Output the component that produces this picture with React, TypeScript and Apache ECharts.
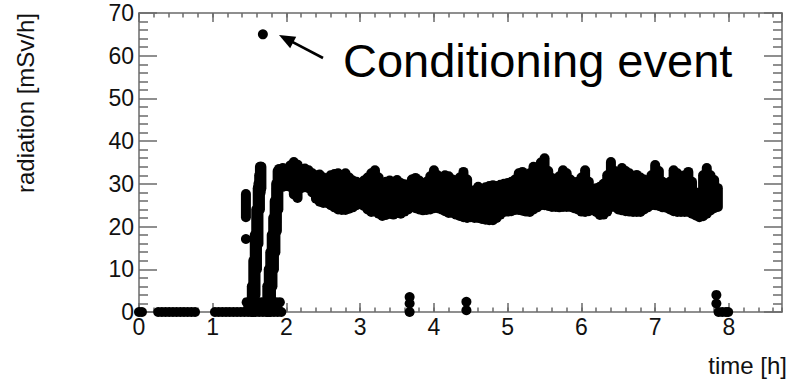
import React, { useEffect, useRef } from "react";
import * as echarts from "echarts";

// ---- Data ----
// Main plateau: for each time bin, lowest and highest measured value (mSv/h)
const bandTime = [
  1.90, 1.95, 2.00, 2.05, 2.10, 2.15, 2.20, 2.25, 2.30, 2.35,
  2.40, 2.45, 2.50, 2.55, 2.60, 2.65, 2.70, 2.75, 2.80, 2.85,
  2.90, 2.95, 3.00, 3.05, 3.10, 3.15, 3.20, 3.25, 3.30, 3.35,
  3.40, 3.45, 3.50, 3.55, 3.60, 3.65, 3.70, 3.75, 3.80, 3.85,
  3.90, 3.95, 4.00, 4.05, 4.10, 4.15, 4.20, 4.25, 4.30, 4.35,
  4.40, 4.45, 4.50, 4.55, 4.60, 4.65, 4.70, 4.75, 4.80, 4.85,
  4.90, 4.95, 5.00, 5.05, 5.10, 5.15, 5.20, 5.25, 5.30, 5.35,
  5.40, 5.45, 5.50, 5.55, 5.60, 5.65, 5.70, 5.75, 5.80, 5.85,
  5.90, 5.95, 6.00, 6.05, 6.10, 6.15, 6.20, 6.25, 6.30, 6.35,
  6.40, 6.45, 6.50, 6.55, 6.60, 6.65, 6.70, 6.75, 6.80, 6.85,
  6.90, 6.95, 7.00, 7.05, 7.10, 7.15, 7.20, 7.25, 7.30, 7.35,
  7.40, 7.45, 7.50, 7.55, 7.60, 7.65, 7.70, 7.75, 7.80, 7.85,
];
const bandHigh = [
  33.5, 33.7, 33.2, 34.3, 35.1, 34.5, 33.5, 33.6, 33.2, 32.5,
  32.0, 32.2, 31.5, 31.0, 32.0, 32.3, 32.5, 32.0, 32.5, 31.5,
  30.8, 30.5, 30.2, 30.8, 31.5, 32.5, 33.2, 31.5, 30.2, 30.5,
  30.8, 30.5, 30.9, 30.2, 29.9, 29.7, 31.0, 31.4, 30.8, 30.2,
  30.5, 31.8, 33.2, 32.0, 31.5, 32.0, 31.8, 31.0, 30.8, 31.5,
  32.8, 31.0, 28.0, 28.5, 29.3, 28.8, 29.2, 29.5, 29.7, 29.5,
  29.8, 30.0, 30.2, 30.5, 31.0, 32.5, 32.8, 31.5, 32.5, 34.0,
  33.5, 35.0, 36.0, 33.0, 31.4, 31.0, 31.8, 33.2, 32.5, 31.0,
  30.4, 30.5, 31.5, 33.2, 30.5, 28.6, 29.0, 29.3, 30.0, 32.0,
  35.1, 33.0, 32.5, 33.7, 33.0, 32.5, 31.5, 32.1, 31.5, 31.0,
  30.4, 32.0, 34.4, 33.0, 30.5, 29.3, 30.5, 33.2, 32.5, 31.5,
  32.0, 32.8, 30.5, 28.0, 27.9, 32.0, 33.7, 32.0, 30.9, 29.0,
];
const bandLow = [
  29.5, 29.3, 29.5, 29.3, 27.5, 26.7, 29.0, 29.2, 29.0, 28.0,
  26.5, 25.8, 25.5, 25.5, 25.0, 24.5, 24.0, 23.9, 23.9, 24.2,
  24.5, 25.0, 25.8, 24.8, 24.0, 23.4, 23.5, 23.0, 22.5, 22.7,
  23.0, 22.8, 23.2, 23.0, 23.5, 24.0, 24.6, 24.3, 24.0, 23.8,
  23.9, 24.0, 24.3, 24.3, 24.0, 23.6, 23.2, 23.2, 22.8, 22.5,
  22.2, 22.0, 22.2, 22.0, 22.0, 21.8, 21.6, 21.5, 21.5, 22.0,
  22.8, 23.4, 23.5, 23.6, 23.9, 23.9, 23.7, 23.5, 23.4, 24.0,
  24.5, 25.0, 25.0, 24.8, 24.6, 24.6, 24.5, 24.6, 24.6, 24.6,
  24.3, 24.0, 23.5, 23.4, 23.6, 23.9, 23.4, 22.7, 22.8, 23.5,
  24.6, 24.6, 24.0, 23.8, 23.6, 23.5, 23.4, 23.4, 23.4, 24.0,
  24.5, 25.0, 25.0, 24.8, 24.5, 24.4, 24.0, 23.6, 23.4, 23.4,
  23.4, 23.4, 23.0, 22.6, 22.2, 22.4, 23.0, 23.8, 24.3, 24.6,
];
// Ramp-up phase: early cluster and the two rising edges
const riseTime = [
  1.45,
  1.53, 1.55, 1.57, 1.59, 1.61, 1.63, 1.65,
  1.55, 1.58, 1.60, 1.62, 1.64, 1.66,
  1.74, 1.76, 1.78, 1.80, 1.82, 1.84, 1.86, 1.88,
  1.77, 1.79, 1.81, 1.83, 1.85, 1.87, 1.89,
];
const riseLow = [
  22.2,
  0, 2, 6, 12, 18, 24, 28,
  0, 4, 10, 16, 24, 29,
  0, 2, 5, 9, 13, 17, 21, 25,
  0, 3, 6, 10, 14, 19, 24,
];
const riseHigh = [
  27.6,
  6, 12, 18, 24, 29, 32, 34,
  4, 14, 22, 30, 34, 34,
  6, 10, 14, 18, 22, 26, 30, 33,
  5, 10, 15, 19, 24, 29, 33,
];
// Single measurements
const pointTime = [
  0.00, 0.04, 0.26, 0.31, 0.36, 0.41, 0.46, 0.51, 0.56, 0.61, 0.66, 0.71, 0.76,
  1.03, 1.08, 1.13, 1.18, 1.23, 1.28, 1.33, 1.38, 1.43, 1.48, 1.53, 1.58, 1.63,
  1.68, 1.73, 1.78, 1.83, 1.88, 1.93,
  1.46, 1.51, 1.56, 1.61, 1.66, 1.71, 1.76, 1.81, 1.86, 1.91,
  1.48, 1.58, 1.68, 1.78, 1.88,
  1.45, 1.68,
  3.67, 3.67, 3.67, 4.44, 4.44, 7.83, 7.83, 7.86, 7.91, 7.96, 7.99,
];
const pointValue = [
  0, 0, 0, 0, 0, 0, 0, 0, 0, 0, 0, 0, 0,
  0, 0, 0, 0, 0, 0, 0, 0, 0, 0, 0, 0, 0,
  0, 0, 0, 0, 0, 0,
  2.3, 2.3, 2.3, 2.3, 2.3, 2.3, 2.3, 2.3, 2.3, 2.3,
  1.0, 1.0, 1.0, 1.0, 1.0,
  17.1, 65,
  3.5, 2.0, 0, 2.4, 0.4, 4.0, 2.0, 0, 0, 0, 0,
];
const xTicksMajor = 1;
const xTicksMinor = 0.2;
const X_MAX = 8.72;
const Y_MAX = 70;
const yTicksMajor = 10;

const FONT = "'Liberation Sans', Arial, Helvetica, sans-serif";
const AXIS_COLOR = "#6a6a6a";

const rangeData = [
  ...bandTime.map((t, i) => [t, bandLow[i], bandHigh[i]]),
  ...riseTime.map((t, i) => [t, riseLow[i], riseHigh[i]]),
];
const pointData = pointTime.map((t, i) => [t, pointValue[i]]);

const intLabel = (v: number) =>
  Math.abs(v - Math.round(v)) < 1e-6 ? String(Math.round(v)) : "";

function xAxisDef(position: "bottom" | "top", interval: number, tickLen: number, showLabel: boolean, showLine: boolean) {
  return {
    type: "value",
    position,
    min: 0,
    max: X_MAX,
    interval,
    axisLine: { show: showLine, onZero: false, lineStyle: { color: AXIS_COLOR, width: 1.5 } },
    axisTick: { show: true, inside: true, length: tickLen, lineStyle: { color: AXIS_COLOR, width: 1.5 } },
    splitLine: { show: false },
    axisLabel: {
      show: showLabel,
      fontSize: 23,
      fontFamily: FONT,
      color: "#111",
      margin: 3,
      formatter: intLabel,
      showMaxLabel: false,
    },
  };
}

function yAxisDef(position: "left" | "right", showLabel: boolean) {
  return {
    type: "value",
    position,
    min: 0,
    max: Y_MAX,
    interval: yTicksMajor,
    axisLine: { show: true, onZero: false, lineStyle: { color: AXIS_COLOR, width: 1.5 } },
    axisTick: { show: true, inside: true, length: 18, lineStyle: { color: AXIS_COLOR, width: 1.5 } },
    minorTick: { show: true, splitNumber: 5, length: 9, lineStyle: { color: AXIS_COLOR, width: 1.5 } },
    splitLine: { show: false },
    minorSplitLine: { show: false },
    axisLabel: {
      show: showLabel,
      fontSize: 23,
      fontFamily: FONT,
      color: "#111",
      margin: 5,
    },
  };
}

// arrow geometry (annotation)
const arrowTail = [323, 58];
const arrowTip = [279, 35];
function arrowHead() {
  const dx = arrowTip[0] - arrowTail[0];
  const dy = arrowTip[1] - arrowTail[1];
  const len = Math.hypot(dx, dy);
  const ux = dx / len, uy = dy / len;
  const hl = 16, hw = 6.5;
  const bx = arrowTip[0] - hl * ux, by = arrowTip[1] - hl * uy;
  return [
    [arrowTip[0], arrowTip[1]],
    [bx - hw * uy, by + hw * ux],
    [bx + hw * uy, by - hw * ux],
  ];
}

const option: any = {
  animation: false,
  backgroundColor: "#fff",
  grid: { left: 139, right: 6, top: 13, bottom: 69, containLabel: false },
  xAxis: [
    xAxisDef("bottom", xTicksMajor, 9, true, true),
    xAxisDef("top", xTicksMajor, 9, false, true),
    xAxisDef("bottom", xTicksMinor, 4.5, false, false),
    xAxisDef("top", xTicksMinor, 4.5, false, false),
  ],
  yAxis: [yAxisDef("left", true), yAxisDef("right", false)],
  series: [
    {
      type: "custom",
      xAxisIndex: 0,
      yAxisIndex: 0,
      data: rangeData,
      encode: { x: 0, y: [1, 2] },
      renderItem: (params: any, api: any) => {
        const p1 = api.coord([api.value(0), api.value(1)]);
        const p2 = api.coord([api.value(0), api.value(2)]);
        return {
          type: "line",
          shape: { x1: p1[0], y1: p1[1], x2: p2[0], y2: p2[1] },
          style: { stroke: "#000", lineWidth: 10, lineCap: "round" },
        };
      },
    },
    {
      type: "scatter",
      xAxisIndex: 0,
      yAxisIndex: 0,
      data: pointData,
      symbol: "circle",
      symbolSize: 10,
      clip: false,
      itemStyle: { color: "#000", opacity: 1 },
    },
  ],
  graphic: [
    {
      type: "text",
      x: 25,
      y: 103,
      rotation: Math.PI / 2,
      style: {
        text: "radiation [mSv/h]",
        font: `24px ${FONT}`,
        fill: "#111",
        align: "center",
        verticalAlign: "middle",
      },
    },
    {
      type: "text",
      x: 787,
      y: 365,
      style: {
        text: "time [h]",
        font: `24px ${FONT}`,
        fill: "#111",
        align: "right",
        verticalAlign: "middle",
      },
    },
    {
      type: "text",
      x: 343,
      y: 60,
      style: {
        text: "Conditioning event",
        font: `47px ${FONT}`,
        fill: "#000",
        align: "left",
        verticalAlign: "middle",
      },
    },
    {
      type: "line",
      shape: { x1: arrowTail[0], y1: arrowTail[1], x2: arrowTip[0] + 8, y2: arrowTip[1] + 4.2 },
      style: { stroke: "#000", lineWidth: 2.6 },
    },
    {
      type: "polygon",
      shape: { points: arrowHead() },
      style: { fill: "#000" },
    },
  ],
};

export default function App() {
  const ref = useRef<HTMLDivElement>(null);
  useEffect(() => {
    const chart = echarts.init(ref.current!, null, { renderer: "svg" });
    chart.setOption(option);
    return () => chart.dispose();
  }, []);
  return (
    <div
      ref={ref}
      style={{ position: "absolute", left: 0, top: 0, width: 788, height: 381, background: "#fff" }}
    />
  );
}
